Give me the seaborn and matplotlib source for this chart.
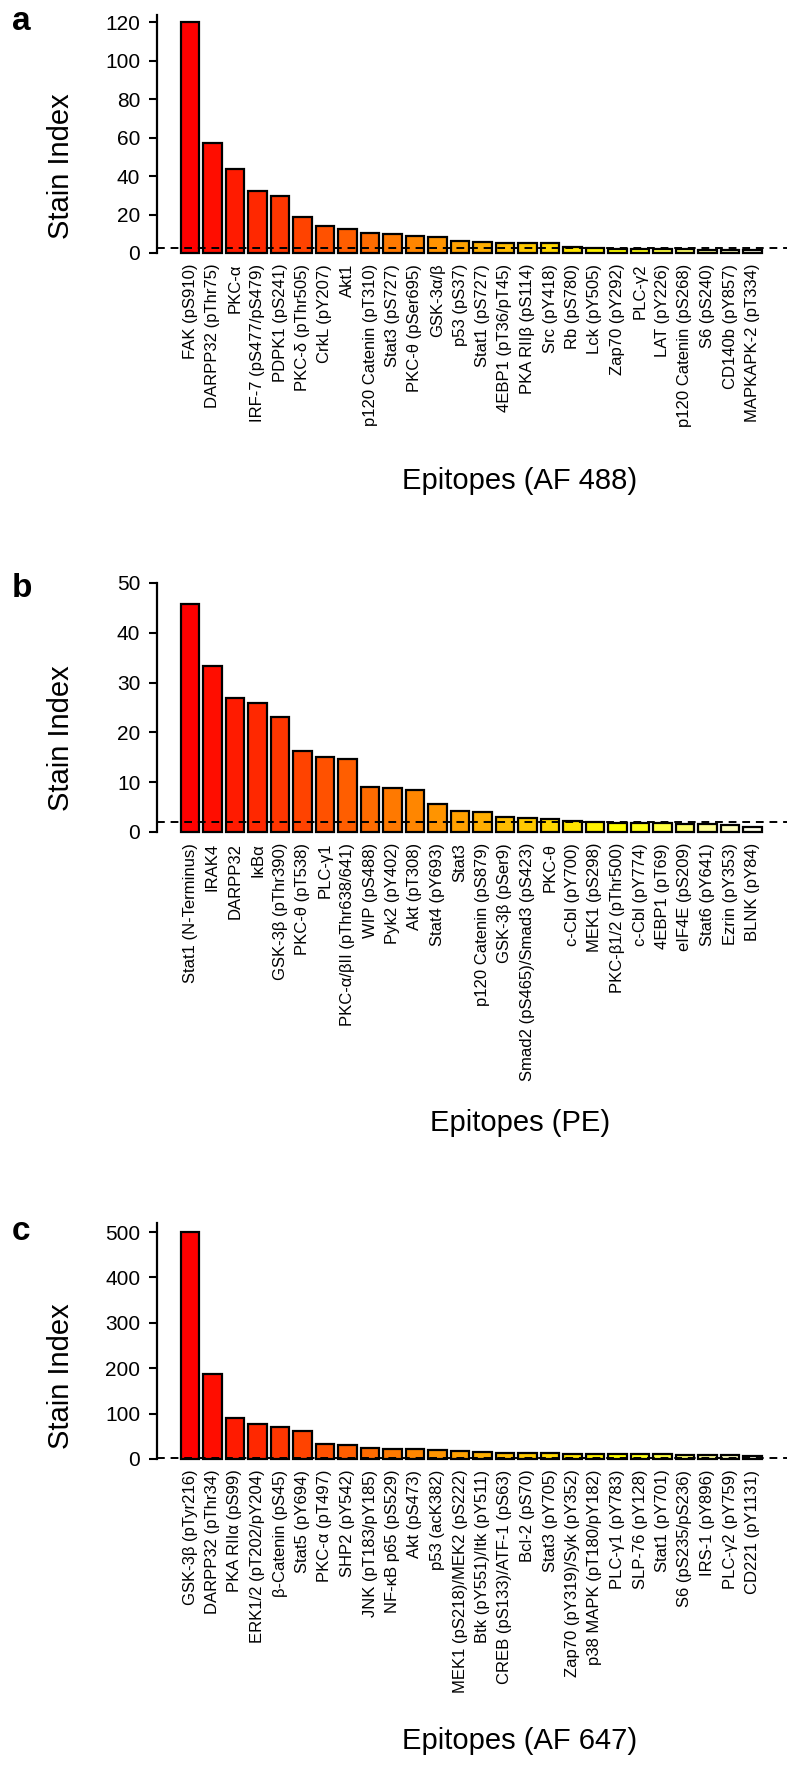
import colorsys
import matplotlib
matplotlib.use("Agg")
import matplotlib.pyplot as plt
import seaborn as sns

# ---------------- data ----------------
a_labels = ["FAK (pS910)", "DARPP32 (pThr75)", "PKC-α", "IRF-7 (pS477/pS479)", "PDPK1 (pS241)",
            "PKC-δ (pThr505)", "CrkL (pY207)", "Akt1", "p120 Catenin (pT310)", "Stat3 (pS727)",
            "PKC-θ (pSer695)", "GSK-3α/β", "p53 (pS37)", "Stat1 (pS727)", "4EBP1 (pT36/pT45)",
            "PKA RIIβ (pS114)", "Src (pY418)", "Rb (pS780)", "Lck (pY505)", "Zap70 (pY292)",
            "PLC-γ2", "LAT (pY226)", "p120 Catenin (pS268)", "S6 (pS240)", "CD140b (pY857)",
            "MAPKAPK-2 (pT334)"]
a_values = [120, 57.3, 43.8, 32.3, 29.9, 18.8, 14.1, 12.7, 10.2, 9.7, 9.0, 8.5, 6.2, 5.9, 5.4,
            5.2, 5.2, 2.9, 2.8, 2.3, 2.2, 2.0, 2.0, 1.8, 1.8, 1.5]
a_ticks = [0, 20, 40, 60, 80, 100, 120]
a_thresh = 2.5

b_labels = ["Stat1 (N-Terminus)", "IRAK4", "DARPP32", "IκBα", "GSK-3β (pThr390)", "PKC-θ (pT538)",
            "PLC-γ1", "PKC-α/βII (pThr638/641)", "WIP (pS488)", "Pyk2 (pY402)", "Akt (pT308)",
            "Stat4 (pY693)", "Stat3", "p120 Catenin (pS879)", "GSK-3β (pSer9)",
            "Smad2 (pS465)/Smad3 (pS423)", "PKC-θ", "c-Cbl (pY700)", "MEK1 (pS298)",
            "PKC-β1/2 (pThr500)", "c-Cbl (pY774)", "4EBP1 (pT69)", "eIF4E (pS209)",
            "Stat6 (pY641)", "Ezrin (pY353)", "BLNK (pY84)"]
b_values = [45.8, 33.4, 27.0, 26.0, 23.0, 16.3, 15.0, 14.7, 9.1, 8.8, 8.4, 5.7, 4.3, 4.1, 3.0,
            2.8, 2.7, 2.2, 2.1, 1.9, 1.9, 1.8, 1.6, 1.6, 1.4, 1.1]
b_ticks = [0, 10, 20, 30, 40, 50]
b_thresh = 2.0

c_labels = ["GSK-3β (pTyr216)", "DARPP32 (pThr34)", "PKA RIIα (pS99)", "ERK1/2 (pT202/pY204)",
            "β-Catenin (pS45)", "Stat5 (pY694)", "PKC-α (pT497)", "SHP2 (pY542)",
            "JNK (pT183/pY185)", "NF-κB p65 (pS529)", "Akt (pS473)", "p53 (acK382)",
            "MEK1 (pS218)/MEK2 (pS222)", "Btk (pY551)/Itk (pY511)", "CREB (pS133)/ATF-1 (pS63)",
            "Bcl-2 (pS70)", "Stat3 (pY705)", "Zap70 (pY319)/Syk (pY352)", "p38 MAPK (pT180/pY182)",
            "PLC-γ1 (pY783)", "SLP-76 (pY128)", "Stat1 (pY701)", "S6 (pS235/pS236)",
            "IRS-1 (pY896)", "PLC-γ2 (pY759)", "CD221 (pY1131)"]
c_values = [500, 188, 91, 78, 71, 61, 33, 30, 24, 22, 22, 20, 17, 15, 14, 14, 13, 12, 12, 12,
            10, 10, 9, 9, 9, 7]
c_ticks = [0, 100, 200, 300, 400, 500]
c_thresh = 2.0


def heat_colors(n):
    # R's heat.colors palette
    j = n // 4
    i = n - j
    cols = []
    for k in range(i):
        h = (1 / 6) * k / (i - 1) if i > 1 else 0
        cols.append(colorsys.hsv_to_rgb(h, 1, 1))
    for k in range(j):
        s_start, s_end = 1 - 1 / (2 * j), 1 / (2 * j)
        s = s_start + (s_end - s_start) * k / (j - 1) if j > 1 else s_start
        cols.append(colorsys.hsv_to_rgb(1 / 6, s, 1))
    return cols


sns.set_style("white")
plt.rcParams["font.family"] = ["Liberation Sans", "DejaVu Sans"]
plt.rcParams["text.color"] = "black"
plt.rcParams["axes.labelcolor"] = "black"
plt.rcParams["xtick.color"] = "black"
plt.rcParams["ytick.color"] = "black"
plt.rcParams["axes.edgecolor"] = "black"

W, H = 787, 1766
fig = plt.figure(figsize=(W / 100, H / 100), dpi=100)

panels = [
    (a_labels, a_values, a_ticks, a_thresh, 253, 22.5, (-2, 124), 124, "a", 30, 166, "Epitopes (AF 488)", 481),
    (b_labels, b_values, b_ticks, b_thresh, 832, 583, (-0.8, 50), 50, "b", 597, 738, "Epitopes (PE)", 1123),
    (c_labels, c_values, c_ticks, c_thresh, 1459, 1232, (-8, 520), 520, "c", 1240, 1376, "Epitopes (AF 647)", 1741),
]

left_px = 157
bar_spacing = 22.5
first_center = 190.0

for (labels, values, ticks, thresh, y0, ytop, ylim, spine_top, letter, lbase,
     ylab_y, xlab, xlab_y) in panels:
    scale = (y0 - ytop) / ticks[-1]
    top_px = y0 - ylim[1] * scale
    bot_px = y0 - ylim[0] * scale
    ax = fig.add_axes([left_px / W, 1 - bot_px / H, (W - left_px) / W, (bot_px - top_px) / H])

    n = len(labels)
    cols = heat_colors(n)
    sns.barplot(x=labels, y=values, hue=labels, palette=cols, legend=False, order=labels,
                hue_order=labels, width=1 / 1.2, edgecolor="black", linewidth=1.6,
                saturation=1, ax=ax)
    ax.axhline(thresh, color="black", linestyle=(0, (4, 3)), linewidth=1.4, zorder=5)

    xl = -(first_center - left_px) / bar_spacing
    xr = xl + (W - left_px) / bar_spacing
    ax.set_xlim(xl, xr)
    ax.set_ylim(*ylim)
    ax.set_yticks(ticks)
    ax.set_yticklabels([str(t) for t in ticks], fontsize=15, color="black")
    ax.set_xticks(range(n))
    ax.set_xticklabels(labels, rotation=90, fontsize=12, ha="center", va="top", color="black")
    ax.tick_params(axis="x", length=0, pad=5)
    ax.tick_params(axis="y", length=6, width=1.5, pad=6, direction="out", left=True,
                   color="black")
    for s in ["top", "right", "bottom"]:
        ax.spines[s].set_visible(False)
    ax.spines["left"].set_linewidth(1.6)
    ax.spines["left"].set_color("black")
    ax.spines["left"].set_bounds(0, spine_top)
    ax.set_xlabel("")
    ax.set_ylabel("")
    ax.patch.set_alpha(0)

    fig.text(12 / W, 1 - lbase / H, letter, fontsize=24, fontweight="bold",
             ha="left", va="baseline", color="black")
    fig.text(61 / W, 1 - ylab_y / H, "Stain Index", fontsize=21, rotation=90,
             ha="center", va="center", color="black")
    fig.text(520 / W, 1 - xlab_y / H, xlab, fontsize=21, ha="center", va="center",
             color="black")

fig.savefig("out.png", dpi=100)
